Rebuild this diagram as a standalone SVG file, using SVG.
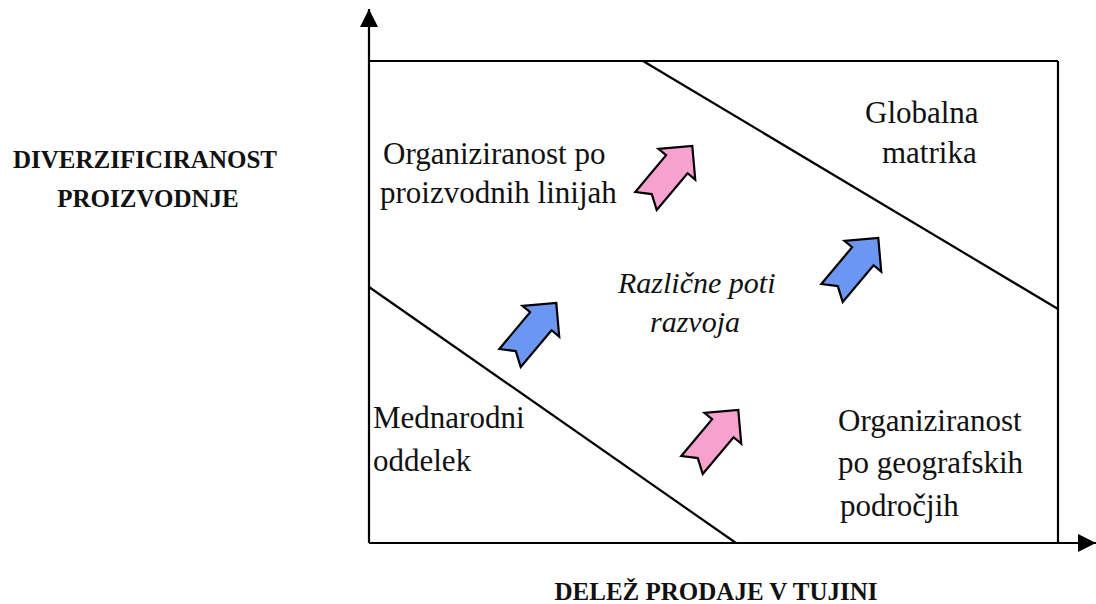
<svg xmlns="http://www.w3.org/2000/svg" width="1096" height="604" viewBox="0 0 1096 604">
  <style>
    .line { stroke: #000; stroke-width: 2.2; fill: none; }
    .lbl { font-family: "Liberation Serif", "Times New Roman", serif; font-size: 31px; fill: #111; }
    .it { font-style: italic; font-size: 30px; }
    .axis-lbl { font-family: "Liberation Serif", "Times New Roman", serif; font-size: 25px; font-weight: bold; fill: #111; text-anchor: middle; }
    .pink { fill: #f7a1cf; stroke: #000; stroke-width: 2.2; stroke-linejoin: miter; }
    .blue { fill: #6b97f2; stroke: #000; stroke-width: 2.2; stroke-linejoin: miter; }
  </style>
  <defs>
    <marker id="axisHead" markerUnits="userSpaceOnUse" markerWidth="18" markerHeight="18" refX="18" refY="9" orient="auto">
      <path d="M0,0 L18,9 L0,18 Z" fill="#000"/>
    </marker>
    <!-- block arrow pointing along +x, notched tail at the origin -->
    <path id="blockArrow" d="M0,-14 L48,-14 L48,-24 L72,0 L48,24 L48,14 L0,14 L9,0 Z"/>
  </defs>
  <rect width="1096" height="604" fill="#fff"/>

  <g id="connectors">
    <!-- axes -->
    <line class="line" x1="369" y1="543" x2="369" y2="9" marker-end="url(#axisHead)"/>
    <line class="line" x1="369" y1="543" x2="1096" y2="543" marker-end="url(#axisHead)"/>
    <!-- frame -->
    <line class="line" x1="369" y1="61" x2="1058" y2="61"/>
    <line class="line" x1="1058" y1="61" x2="1058" y2="543"/>
    <!-- zone boundaries -->
    <line class="line" x1="643" y1="61" x2="1058" y2="309"/>
    <line class="line" x1="369" y1="287" x2="736" y2="543"/>
  </g>

  <g id="axis-y-label">
    <text class="axis-lbl" x="145" y="168">DIVERZIFICIRANOST</text>
    <text class="axis-lbl" x="148" y="207">PROIZVODNJE</text>
  </g>
  <g id="axis-x-label">
    <text class="axis-lbl" x="716" y="600">DELEŽ PRODAJE V TUJINI</text>
  </g>

  <g id="node-product-lines">
    <text class="lbl" x="383" y="164">Organiziranost po</text>
    <text class="lbl" x="380" y="203">proizvodnih linijah</text>
  </g>
  <g id="node-global-matrix">
    <text class="lbl" x="865" y="123">Globalna</text>
    <text class="lbl" x="882" y="163">matrika</text>
  </g>
  <g id="node-paths">
    <text class="lbl it" x="618" y="293">Različne poti</text>
    <text class="lbl it" x="650" y="332">razvoja</text>
  </g>
  <g id="node-international">
    <text class="lbl" x="373" y="428">Mednarodni</text>
    <text class="lbl" x="373" y="471">oddelek</text>
  </g>
  <g id="node-geographic">
    <text class="lbl" x="838" y="431">Organiziranost</text>
    <text class="lbl" x="838" y="473">po geografskih</text>
    <text class="lbl" x="840" y="516">področjih</text>
  </g>

  <g id="arrow-pink-top"><use href="#blockArrow" class="pink" transform="translate(646,201) rotate(-50)"/></g>
  <g id="arrow-blue-left"><use href="#blockArrow" class="blue" transform="translate(510,358) rotate(-50)"/></g>
  <g id="arrow-pink-bottom"><use href="#blockArrow" class="pink" transform="translate(692,465) rotate(-50)"/></g>
  <g id="arrow-blue-right"><use href="#blockArrow" class="blue" transform="translate(832,293) rotate(-50)"/></g>
</svg>
